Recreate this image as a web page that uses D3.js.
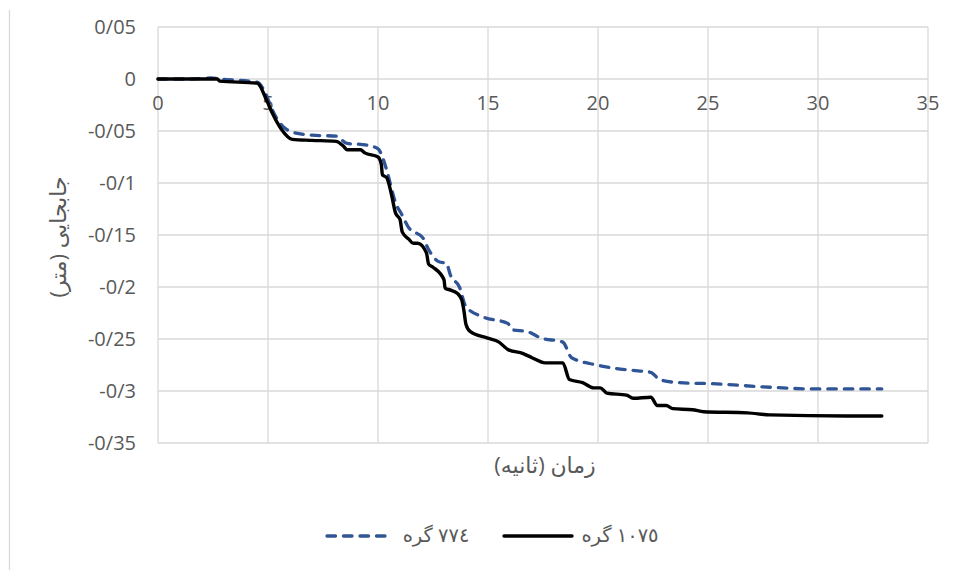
<!DOCTYPE html>
<html><head><meta charset="utf-8">
<script src="https://cdn.jsdelivr.net/npm/d3@7"></script>
<style>
body{margin:0;background:#fff;}
text{font-family:"Open Sans","DejaVu Sans",sans-serif;fill:#595959;}
</style></head>
<body><svg id="c" width="957" height="570"></svg>
<script>
const time1075 = [0, 2.7, 2.8, 4.5, 4.95, 5.2, 5.6, 6.1, 7, 8.1, 8.4, 8.6, 9.2, 9.4, 10.0, 10.15, 10.2, 10.4, 10.6, 10.8, 11.0, 11.1, 11.4, 11.6, 11.8, 12.2, 12.3, 12.5, 13.0, 13.05, 13.3, 13.6, 13.8, 13.9, 14.0, 14.2, 14.95, 15.5, 15.9, 16.6, 17.0, 17.6, 18.4, 18.7, 19.3, 19.8, 20.1, 20.4, 21.3, 21.6, 22.4, 22.7, 23.1, 23.4, 24.3, 24.8, 26.8, 27.8, 31.3, 32.9];
const disp1075 = [0, 0, -0.002, -0.004, -0.021, -0.033, -0.048, -0.058, -0.059, -0.060, -0.064, -0.068, -0.068, -0.071, -0.075, -0.082, -0.092, -0.095, -0.110, -0.129, -0.135, -0.147, -0.154, -0.158, -0.158, -0.167, -0.178, -0.181, -0.193, -0.201, -0.203, -0.206, -0.212, -0.222, -0.236, -0.243, -0.249, -0.253, -0.260, -0.264, -0.268, -0.273, -0.273, -0.289, -0.292, -0.297, -0.297, -0.302, -0.304, -0.307, -0.306, -0.314, -0.314, -0.317, -0.318, -0.320, -0.321, -0.323, -0.324, -0.324];
const time774 = [0, 1.5, 2.4, 2.8, 4.5, 4.8, 5.2, 5.4, 5.7, 6.1, 7, 8.1, 8.6, 9.3, 10.0, 10.2, 10.4, 10.8, 11.1, 11.4, 12.05, 12.3, 12.8, 13.1, 13.3, 13.7, 14.0, 14.8, 15.9, 16.1, 16.8, 17.4, 18.4, 18.8, 19.95, 20.7, 21.5, 22.4, 22.8, 23.7, 25.2, 27.5, 29.8, 32.9];
const disp774 = [0, 0, 0.001, 0, -0.003, -0.010, -0.030, -0.038, -0.046, -0.051, -0.054, -0.055, -0.062, -0.063, -0.067, -0.075, -0.088, -0.119, -0.131, -0.143, -0.153, -0.164, -0.176, -0.177, -0.189, -0.200, -0.219, -0.229, -0.235, -0.241, -0.243, -0.249, -0.253, -0.268, -0.275, -0.278, -0.280, -0.282, -0.289, -0.292, -0.293, -0.296, -0.298, -0.298];
const xTicks = [0, 5, 10, 15, 20, 25, 30, 35];
const yTicks = [0.05, 0, -0.05, -0.1, -0.15, -0.2, -0.25, -0.3, -0.35];
const yTickLabels = ["0/05", "0", "-0/05", "-0/1", "-0/15", "-0/2", "-0/25", "-0/3", "-0/35"];
const seriesNames = ["٧٧٤ گره", "١٠٧٥ گره"];
const xTitle = "زمان (ثانیه)";
const yTitle = "جابجایی (متر)";

const svg = d3.select("#c");
const x = d3.scaleLinear().domain([0, 35]).range([158, 928]);
const y = d3.scaleLinear().domain([-0.35, 0.05]).range([443, 27]);

// chart border (left edge)
svg.append("line").attr("x1", 9.5).attr("x2", 9.5).attr("y1", 10).attr("y2", 570)
  .attr("stroke", "#d9d9d9").attr("stroke-width", 1.3);

// gridlines
svg.append("g").selectAll("line").data(yTicks).join("line")
  .attr("x1", x(0)).attr("x2", x(35)).attr("y1", d => y(d)).attr("y2", d => y(d))
  .attr("stroke", "#d9d9d9").attr("stroke-width", 1.3);
svg.append("g").selectAll("line").data(xTicks).join("line")
  .attr("x1", d => x(d)).attr("x2", d => x(d)).attr("y1", y(0.05)).attr("y2", y(-0.35))
  .attr("stroke", "#d9d9d9").attr("stroke-width", 1.3);

// y tick labels
svg.append("g").selectAll("text").data(yTicks).join("text")
  .attr("x", 136).attr("y", d => y(d)).attr("dy", "0.35em")
  .attr("text-anchor", "end").attr("font-size", 20)
  .text((d, i) => yTickLabels[i]);
// x tick labels (axis crosses at 0)
svg.append("g").selectAll("text").data(xTicks).join("text")
  .attr("x", d => x(d)).attr("y", y(0) + 31)
  .attr("text-anchor", "middle").attr("font-size", 20)
  .text(d => d);

const line = d3.line().x(d => x(d[0])).y(d => y(d[1])).curve(d3.curveMonotoneX);
const data774 = time774.map((t, i) => [t, disp774[i]]);
const data1075 = time1075.map((t, i) => [t, disp1075[i]]);

svg.append("path").datum(data774).attr("d", line).attr("fill", "none")
  .attr("stroke", "#2F5597").attr("stroke-width", 3.3)
  .attr("stroke-dasharray", "8.5,8").attr("stroke-linecap", "round");
svg.append("path").datum(data1075).attr("d", line).attr("fill", "none")
  .attr("stroke", "#000").attr("stroke-width", 3.4).attr("stroke-linecap", "round");

// axis titles
svg.append("text").attr("x", 545).attr("y", 465).attr("dy", "0.35em")
  .attr("text-anchor", "middle").attr("font-size", 22).attr("direction", "rtl")
  .style("unicode-bidi", "embed").text(xTitle);
svg.append("text").attr("transform", "translate(58,237) rotate(-90)").attr("dy", "0.35em")
  .attr("text-anchor", "middle").attr("font-size", 22).attr("direction", "rtl")
  .style("unicode-bidi", "embed").text(yTitle);

// legend
const leg = svg.append("g");
leg.append("line").attr("x1", 327).attr("x2", 393).attr("y1", 536).attr("y2", 536)
  .attr("stroke", "#2F5597").attr("stroke-width", 3.3)
  .attr("stroke-dasharray", "8.5,8").attr("stroke-linecap", "round");
leg.append("text").attr("x", 436).attr("y", 535).attr("dy", "0.35em")
  .attr("text-anchor", "middle").attr("font-size", 19.5).attr("direction", "rtl")
  .style("unicode-bidi", "embed").text(seriesNames[0]);
leg.append("line").attr("x1", 504).attr("x2", 572).attr("y1", 536).attr("y2", 536)
  .attr("stroke", "#000").attr("stroke-width", 3.4).attr("stroke-linecap", "round");
leg.append("text").attr("x", 620).attr("y", 535).attr("dy", "0.35em")
  .attr("text-anchor", "middle").attr("font-size", 19.5).attr("direction", "rtl")
  .style("unicode-bidi", "embed").text(seriesNames[1]);
</script></body></html>
